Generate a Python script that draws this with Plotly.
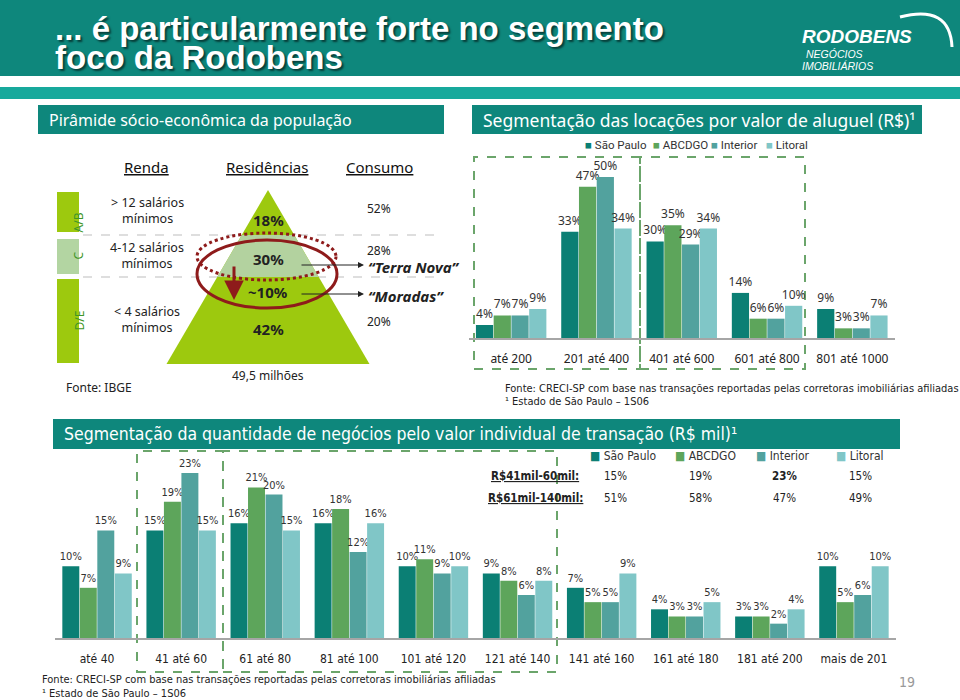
import plotly.graph_objects as go

W, H = 960, 700


def px(x):
    return x / W


def py(y):
    return 1 - y / H


# ---------------- data ----------------
series = ["São Paulo", "ABCDGO", "Interior", "Litoral"]
colors = ["#0B7F74", "#5DA55B", "#52A29E", "#80C6C7"]

rent_categories = ["até 200", "201 até 400", "401 até 600", "601 até 800", "801 até 1000"]
rent_sao_paulo = [4, 33, 30, 14, 9]
rent_abcdgo = [7, 47, 35, 6, 3]
rent_interior = [7, 50, 29, 6, 3]
rent_litoral = [9, 34, 34, 10, 7]

deal_categories = ["até 40", "41 até 60", "61 até 80", "81 até 100", "101 até 120",
                   "121 até 140", "141 até 160", "161 até 180", "181 até 200", "mais de 201"]
deal_sao_paulo = [10, 15, 16, 16, 10, 9, 7, 4, 3, 10]
deal_abcdgo = [7, 19, 21, 18, 11, 8, 5, 3, 3, 5]
deal_interior = [15, 23, 20, 12, 9, 6, 5, 3, 2, 6]
deal_litoral = [9, 15, 15, 16, 10, 8, 9, 5, 4, 10]

table_rows = ["R$41mil-60mil:", "R$61mil-140mil:"]
table_41_60 = ["15%", "19%", "23%", "15%"]
table_61_140 = ["51%", "58%", "47%", "49%"]

class_labels = ["A/B", "C", "D/E"]
renda_labels = ["> 12 salários<br>mínimos", "4-12 salários<br>mínimos", "< 4 salários<br>mínimos"]
residencia_labels = ["18%", "30%", "~10%", "42%"]
consumo_labels = ["52%", "28%", "20%"]
products = ["“Terra Nova”", "“Moradas”"]

rent_values = [rent_sao_paulo, rent_abcdgo, rent_interior, rent_litoral]
deal_values = [deal_sao_paulo, deal_abcdgo, deal_interior, deal_litoral]

F = "Noto Sans, Open Sans, sans-serif"
FR = "Roboto, Noto Sans, sans-serif"
FN = "Liberation Sans Narrow, DejaVu Sans Condensed, Roboto, sans-serif"
FA = "Liberation Sans, Arial, sans-serif"
TEAL = "#0E877C"
LIME = "#9DC90E"
DASHGREEN = "#6BA56B"
RED = "#8E1B1B"

fig = go.Figure()

for i, name in enumerate(series):
    fig.add_trace(go.Bar(
        x=rent_categories, y=rent_values[i], name=name, marker_color=colors[i],
        xaxis="x", yaxis="y", showlegend=False,
        text=[f"{v}%" for v in rent_values[i]], textposition="outside", constraintext="none",
        textfont=dict(size=12, color="#333", family=F), cliponaxis=False,
        marker_line_width=0,
    ))
for i, name in enumerate(series):
    fig.add_trace(go.Bar(
        x=deal_categories, y=deal_values[i], name=name, marker_color=colors[i],
        xaxis="x2", yaxis="y2", showlegend=False,
        text=[f"{v}%" for v in deal_values[i]], textposition="outside", constraintext="none",
        textfont=dict(size=11, color="#333", family=FN), cliponaxis=False,
        marker_line_width=0,
    ))

shapes = []
ann = []


def rect(x0, y0, x1, y1, fill, line=None, width=0, dash=None):
    shapes.append(dict(type="rect", xref="paper", yref="paper",
                       x0=px(x0), x1=px(x1), y0=py(y1), y1=py(y0),
                       fillcolor=fill, line=dict(color=line or fill, width=width, dash=dash),
                       layer="below"))


def txt(x, y, s, size=12, color="#222", xanchor="center", family=F, **kw):
    ann.append(dict(x=px(x), y=py(y), xref="paper", yref="paper", text=s,
                    showarrow=False, xanchor=xanchor, yanchor="middle",
                    font=dict(size=size, color=color, family=family), **kw))


# ---------------- title banner ----------------
rect(0, 0, 960, 76, TEAL)
rect(0, 87, 960, 99, "#17A99C")
shadow = "2px 2px 2px rgba(0,0,0,0.55)"
for yy, line in [(28, "... é particularmente forte no segmento"), (58, "foco da Rodobens")]:
    ann.append(dict(x=px(53), y=py(yy), xref="paper", yref="paper", text=f"<b>{line}</b>",
                    showarrow=False, xanchor="left", yanchor="middle",
                    font=dict(size=33, color="white", family=FA, shadow=shadow)))
txt(800, 37, "<b><i>RODOBENS</i></b>", 19, "white", "left", FA)
txt(804, 54, "<i>NEGÓCIOS</i>", 10.5, "white", "left", FA)
txt(800, 66, "<i>IMOBILIÁRIOS</i>", 10.5, "white", "left", FA)
shapes.append(dict(type="path", xref="paper", yref="paper",
                   path=f"M {px(900)} {py(17)} Q {px(950)} {py(4)} {px(952)} {py(47)}",
                   line=dict(color="white", width=3)))

# ---------------- section headers ----------------
rect(38, 105, 444, 134, TEAL)
txt(47, 120, "Pirâmide sócio-econômica da população", 16, "white", "left")
rect(472, 105, 922, 134, TEAL)
txt(481, 120, "Segmentação das locações por valor de aluguel (R$)¹", 17.5, "white", "left")
rect(53, 419, 900, 449, TEAL)
txt(62, 434, "Segmentação da quantidade de negócios pelo valor individual de transação (R$ mil)¹",
    17.5, "white", "left", FN)

# ---------------- pyramid ----------------
txt(146, 167, "<u>Renda</u>", 15, "#111")
txt(267, 167, "<u>Residências</u>", 15, "#111")
txt(379, 167, "<u>Consumo</u>", 15, "#111")

rect(57, 192, 79, 232, LIME)
rect(57, 239, 79, 274, "#B3D5A2")
rect(57, 279, 79, 363, LIME)
for (yc, lab) in zip([211, 256, 321], class_labels):
    ann.append(dict(x=px(68), y=py(yc), xref="paper", yref="paper", text=lab,
                    showarrow=False, textangle=-90,
                    font=dict(size=12, color="#3E9628", family=F)))

for y in (235, 277):
    shapes.append(dict(type="line", xref="paper", yref="paper", x0=px(83), x1=px(437),
                       y0=py(y), y1=py(y), line=dict(color="#BDBDBD", width=1, dash="dash")))

apx, apy, by, hw = 268, 190, 364, 101.5


def half(y):
    return hw * (y - apy) / (by - apy)


shapes.append(dict(type="path", xref="paper", yref="paper",
                   path=f"M {px(apx)} {py(apy)} L {px(apx + hw)} {py(by)} L {px(apx - hw)} {py(by)} Z",
                   fillcolor=LIME, line=dict(width=0)))
shapes.append(dict(type="path", xref="paper", yref="paper",
                   path=(f"M {px(apx - half(235))} {py(235)} L {px(apx + half(235))} {py(235)} "
                         f"L {px(apx + half(277))} {py(277)} L {px(apx - half(277))} {py(277)} Z"),
                   fillcolor="#B3D29F", line=dict(width=0)))

for (yc, lab) in zip([220, 259, 292, 329], residencia_labels):
    txt(268, yc, f"<b>{lab}</b>", 15, "#222")
for (yc, lab) in zip([210, 255, 320], renda_labels):
    txt(147, yc, lab, 12.5, "#222")
for (yc, lab) in zip([208, 251, 321], consumo_labels):
    txt(379, yc, lab, 12, "#222")

shapes.append(dict(type="circle", xref="paper", yref="paper", x0=px(197), x1=px(337),
                   y0=py(308), y1=py(240), line=dict(color=RED, width=3)))
shapes.append(dict(type="circle", xref="paper", yref="paper", x0=px(197), x1=px(336),
                   y0=py(280), y1=py(233), line=dict(color=RED, width=3, dash="dot")))
ann.append(dict(x=px(234), y=py(300), xref="paper", yref="paper", text="", showarrow=True,
                ax=0, ay=-35, arrowhead=2, arrowsize=1.3, arrowwidth=3, arrowcolor=RED))
for yy, lab in zip([265, 294], products):
    ann.append(dict(x=px(364), y=py(yy), xref="paper", yref="paper", text="", showarrow=True,
                    ax=-64, ay=0, arrowhead=2, arrowsize=1.2, arrowwidth=1, arrowcolor="#222"))
    txt(366, yy + 2, f"<b><i>{lab}</i></b>", 15, "#222", "left")

txt(268, 375, "49,5 milhões", 12, "#222")
txt(64, 387, "Fonte: IBGE", 12, "#222", "left")

# ---------------- top-right chart extras ----------------
rect(474, 157, 640, 369, "rgba(0,0,0,0)", DASHGREEN, 2, "dash")
rect(640, 157, 805, 369, "rgba(0,0,0,0)", DASHGREEN, 2, "dash")
for mx, name, c in zip([583, 651, 709, 764], series, colors):
    txt(mx, 145, f"<span style='color:{c}'>■</span> {name}", 11.5, "#333", "left", FR)
txt(503, 388, "Fonte: CRECI-SP com base nas transações reportadas pelas corretoras imobiliárias afiliadas",
    11, "#222", "left", FN)
txt(503, 401, "¹ Estado de São Paulo – 1S06", 11, "#222", "left", FN)

# ---------------- bottom chart extras ----------------
rect(137, 451, 223, 672, "rgba(0,0,0,0)", DASHGREEN, 2, "dash")
rect(223, 451, 557, 672, "rgba(0,0,0,0)", DASHGREEN, 2, "dash")
for mx, name, c in zip([588, 673, 754, 834], series, colors):
    txt(mx, 456, f"<span style='color:{c}'>■</span> {name}", 12, "#333", "left", FN)

col_x = [615, 700, 784, 860]
for ry, row_label, vals in [(476, table_rows[0], table_41_60), (498, table_rows[1], table_61_140)]:
    txt(535, ry, f"<b><u>{row_label}</u></b>", 11.5, "#222", "center", FN)
    for j, (cx, v) in enumerate(zip(col_x, vals)):
        s = f"<b>{v}</b>" if (row_label == table_rows[0] and j == 2) else v
        txt(cx, ry, s, 11.5, "#222", "center", FN)

txt(40, 679, "Fonte: CRECI-SP com base nas transações reportadas pelas corretoras imobiliárias afiliadas",
    11, "#222", "left", FN)
txt(40, 693, "¹ Estado de São Paulo – 1S06", 11, "#222", "left", FN)
txt(907, 682, "19", 14, "#999", "center", FN)

axis_common = dict(showline=True, linecolor="#A6A6A6", linewidth=1.5, ticks="", showgrid=False,
                   zeroline=False, fixedrange=True)

fig.update_layout(
    width=W, height=H, autosize=False, margin=dict(l=0, r=0, t=0, b=0, pad=0),
    paper_bgcolor="white", plot_bgcolor="rgba(0,0,0,0)",
    barmode="group", bargap=0.168, bargroupgap=0.03,
    xaxis=dict(domain=[px(468.5), px(895)], anchor="y",
               tickfont=dict(size=12, color="#222", family=F), ticklabelstandoff=9, **axis_common),
    yaxis=dict(domain=[py(338), py(338 - 55 * 3.22)], range=[0, 55], visible=False, anchor="x"),
    xaxis2=dict(domain=[px(55), px(896)], anchor="y2",
                tickfont=dict(size=12, color="#222", family=FN), ticklabelstandoff=9, **axis_common),
    yaxis2=dict(domain=[py(638), py(638 - 25 * 7.17)], range=[0, 25], visible=False, anchor="x2"),
    shapes=shapes, annotations=ann, showlegend=False,
)

post = ("document.documentElement.style.margin='0';document.body.style.margin='0';"
        "document.body.style.padding='0';document.body.style.overflow='hidden';"
        "var gd=document.getElementById('{plot_id}');gd.style.width='960px';gd.style.height='700px';"
        "Plotly.relayout(gd,{width:960,height:700});")

fig.write_html("out.html", config={"responsive": False, "displayModeBar": False}, post_script=post)
